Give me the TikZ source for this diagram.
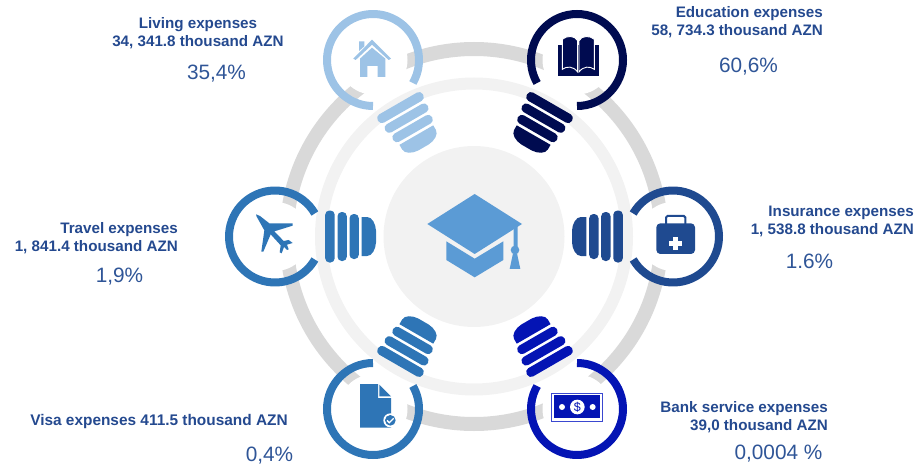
\documentclass[tikz,border=0pt]{standalone}
\usepackage{fontspec}
\setmainfont{Liberation Sans}
\definecolor{graya}{HTML}{D9D9D9}
\definecolor{grayb}{HTML}{F2F2F2}
\definecolor{capc}{HTML}{5B9BD5}
\definecolor{homec}{HTML}{9DC3E6}
\definecolor{bookc}{HTML}{000B50}
\definecolor{kitc}{HTML}{1F4A90}
\definecolor{billc}{HTML}{0414B4}
\definecolor{billedge}{HTML}{3A48D0}
\definecolor{midc}{HTML}{2E75B6}
\definecolor{txtc}{HTML}{24498F}
\definecolor{pctc}{HTML}{2F5597}
\tikzset{
  titletext/.style={font=\fontsize{15.2}{18}\selectfont\bfseries,text=txtc,inner sep=0pt},
  pcttext/.style={font=\fontsize{20.8}{24}\selectfont,text=pctc,inner sep=0pt},
  zoomed/.style={x=0.33333pt,y=-0.33333pt}
}
\newcommand{\lampa}[4]{%
  \fill[white] (#1,#2) circle[radius=34.5];
  \begin{scope}[shift={(#1,#2)},rotate=#3]
    \draw[#4,line width=8pt] (30:46) arc[start angle=30,end angle=330,radius=46];
    \fill[#4,rounded corners=4.2pt] (50.2,-26) rectangle (59.7,26);
    \fill[#4,rounded corners=4.2pt] (62.5,-24.5) rectangle (71.8,24.5);
    \fill[#4,rounded corners=4.2pt] (74.5,-22.5) rectangle (83.8,22.5);
    \fill[#4] (86.7,-19.5) -- (92,-19.5) .. controls (97,-19.5) and (100.6,-13) .. (101,-6)
       -- (101,6) .. controls (100.6,13) and (97,19.5) .. (92,19.5) -- (86.7,19.5) -- cycle;
  \end{scope}}
\begin{document}
\begin{tikzpicture}[x=1pt,y=1pt]
\useasboundingbox (0,0) rectangle (921,-468);
\coordinate (mid) at (474,-236.5);
\draw[graya,line width=14pt] (mid) circle[radius=187.5];
\draw[grayb,line width=12pt] (mid) circle[radius=153];
\fill[grayb] (mid) circle[radius=90.5];
\lampa{373}{-60}{-60}{homec}
\lampa{577}{-60}{-120}{bookc}
\lampa{673}{-236.5}{180}{kitc}
\lampa{577}{-409}{120}{billc}
\lampa{373}{-409}{60}{midc}
\lampa{275}{-236.5}{0}{midc}
% graduation cap
\begin{scope}[shift={(390,-170)},zoomed]
  \fill[capc] (254,72) -- (396,162) -- (254,252) -- (112,162) -- cycle;
  \fill[capc] (169,214) -- (254,266) -- (340,214) -- (340,270) -- (254,322) -- (169,270) -- cycle;
  \fill[capc] (371,176) -- (383,168) -- (383,235) -- (371,235) -- cycle;
  \fill[capc] (375,240) circle[radius=13];
  \fill[capc] (369,250) -- (381,250) -- (391,297) -- (359,297) -- cycle;
\end{scope}
% house
\begin{scope}[shift={(310,0)},zoomed]
  \fill[homec] (147,124) -- (163,124) -- (163,139) -- (147,153) -- cycle;
  \fill[homec] (186,119) -- (243,176) -- (236,180) -- (186,134) -- (137,180) -- (130,176) -- cycle;
  \fill[homec] (150,231) -- (150,176) -- (186,143) -- (226,176) -- (226,231) -- (203,231) -- (203,198) -- (172,198) -- (172,231) -- cycle;
\end{scope}
% book
\begin{scope}[shift={(310,0)},zoomed]
  \fill[bookc] (744,135) rectangle (866,227);
  \fill[bookc,draw=white,line width=0.9pt] (757,118) .. controls (770,106) and (795,106) .. (803,122) -- (803,216) .. controls (790,198) and (770,198) .. (757,208) -- cycle;
  \fill[bookc,draw=white,line width=0.9pt] (853,118) .. controls (840,106) and (815,106) .. (807,122) -- (807,216) .. controls (820,198) and (840,198) .. (853,208) -- cycle;
\end{scope}
% medical kit
\begin{scope}[shift={(560,-170)},zoomed]
  \draw[kitc,line width=2pt,rounded corners=1.5pt] (318,165) -- (318,138) -- (376,138) -- (376,165);
  \fill[kitc,rounded corners=4pt] (289,160) rectangle (405,252);
  \fill[white] (340,201) rectangle (354,239);
  \fill[white] (328,213) rectangle (366,227);
\end{scope}
% bank note
\begin{scope}[shift={(310,-310)},zoomed]
  \fill[billedge] (723,248) rectangle (880,335);
  \fill[white] (726,251) rectangle (877,332);
  \fill[billc] (733,255) rectangle (870,325);
  \fill[white] (802,291) circle[radius=22];
  \fill[white] (756,291) circle[radius=9];
  \fill[white] (848,291) circle[radius=9];
  \node[text=billc,inner sep=0pt,font=\fontsize{12.5}{13}\selectfont] (dollar) at (802,291) {\$};
\end{scope}
% document
\begin{scope}[shift={(310,-310)},zoomed]
  \fill[midc] (150,222) -- (204,222) -- (204,264) -- (243,264) -- (243,353) -- (150,353) -- cycle;
  \fill[midc] (208,224) -- (243,259) -- (208,259) -- cycle;
  \fill[white] (241,331) circle[radius=21];
  \fill[midc] (241,331) circle[radius=16];
  \draw[white,line width=1.3pt] (231,331) -- (238,338) -- (251,325);
\end{scope}
% aeroplane
\begin{scope}[shift={(210,-170)},zoomed]
  \fill[midc] (138,133) -- (150,138) -- (178,160) -- (248,160) -- (248,167) -- (193,184) -- (221,213) -- (236,210) -- (248,219) -- (231,224) -- (236,238) -- (231,240) -- (222,231) -- (215,250) -- (209,247) -- (212,226) -- (182,193) -- (160,245) -- (154,245) -- (163,181) -- (140,140) -- cycle;
\end{scope}
% labels
\node[titletext,align=center] (living) at (198,-33) {Living expenses\\34, 341.8 thousand AZN};
\node[pcttext] (livingp) at (216.5,-73.5) {35,4\%};
\node[titletext,align=right,anchor=east] (edu) at (823,-22) {Education expenses\\58, 734.3 thousand AZN};
\node[pcttext] (edup) at (748.5,-66.5) {60,6\%};
\node[titletext,align=right,anchor=east] (ins) at (914,-221) {Insurance expenses\\1, 538.8 thousand AZN};
\node[pcttext] (insp) at (809.5,-261) {1.6\%};
\node[titletext,align=right,anchor=east] (bank) at (828,-417) {Bank service expenses\\39,0 thousand AZN};
\node[pcttext] (bankp) at (778.5,-453.5) {0,0004 \%};
\node[titletext,align=right,anchor=east] (travel) at (178,-238) {Travel expenses\\1, 841.4 thousand AZN};
\node[pcttext] (travelp) at (119.5,-276.5) {1,9\%};
\node[titletext,font=\fontsize{15.4}{18}\selectfont\bfseries] (visa) at (159,-422) {Visa expenses 411.5 thousand AZN};
\node[pcttext] (visap) at (269.5,-455.5) {0,4\%};
\end{tikzpicture}
\end{document}
